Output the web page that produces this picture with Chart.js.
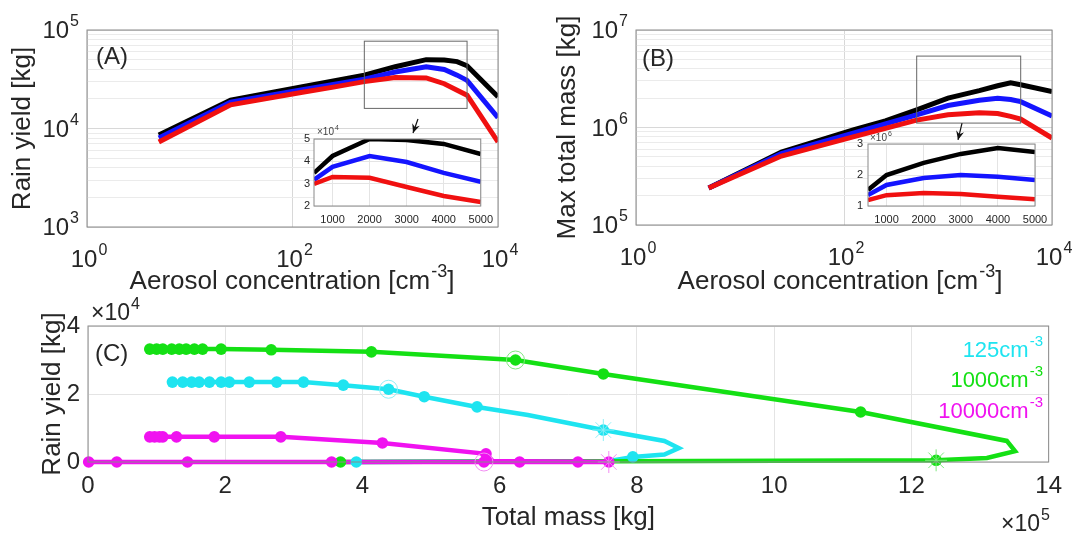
<!DOCTYPE html>
<html>
<head>
<meta charset="utf-8">
<script src="https://cdn.jsdelivr.net/npm/chart.js@4.4.1/dist/chart.umd.min.js"></script>
<style>
  html, body { margin: 0; padding: 0; background: #fff; }
  #wrap { position: relative; width: 1072px; height: 533px; overflow: hidden; }
  canvas { position: absolute; }
</style>
</head>
<body>
<div id="wrap">
  <canvas id="chartA" width="530" height="300" style="left:0px;top:0px;width:530px;height:300px"></canvas>
  <canvas id="chartB" width="542" height="300" style="left:530px;top:0px;width:542px;height:300px"></canvas>
  <canvas id="chartC" width="1072" height="243" style="left:0px;top:290px;width:1072px;height:243px"></canvas>
  <canvas id="insetA" width="220" height="115" style="left:280px;top:120px;width:220px;height:115px"></canvas>
  <canvas id="insetB" width="230" height="110" style="left:830px;top:125px;width:230px;height:110px"></canvas>
</div>
<script>
// aerosol concentration [cm-3] used in panels A and B
const aerosolConc = [5, 25, 125, 250, 500, 1000, 2000, 3000, 4000, 5000, 10000]

// panel A: rain yield [kg]
const rainBlack = [8600, 19400, 26500, 30300, 34800, 42400, 50000, 49600, 47800, 43300, 21000]
const rainBlue = [8000, 18500, 24700, 28000, 31700, 37500, 42400, 39700, 34800, 30800, 12900]
const rainRed = [7300, 17400, 23300, 26300, 29900, 33000, 32600, 28500, 24500, 21800, 7300]

// panel B: max total mass [kg]
const massBlack = [240000, 560000, 950000, 1170000, 1520000, 2000000, 2390000, 2680000, 2870000, 2740000, 2330000]
const massBlue = [240000, 540000, 880000, 1090000, 1350000, 1680000, 1900000, 2000000, 1940000, 1840000, 1310000]
const massRed = [240000, 510000, 805000, 980000, 1190000, 1350000, 1420000, 1390000, 1300000, 1220000, 780000]

// zoom boxes and arrows (data coords) pointing at the insets
const boxAx = [500, 5000], boxAy = [16000, 77000]
const arrowAx = [1664, 1489], arrowAy = [12470, 9000]
const boxBx = [500, 5000], boxBy = [1110000, 5400000]
const arrowBx = [1364, 1248], arrowBy = [1110000, 745000]

// panel C: total mass in 1e5 kg, rain yield in 1e4 kg
const cyanPathMass = [3.91, 7.6, 7.94, 8.4, 8.61, 8.4, 7.51, 6.41, 5.67, 4.90, 4.38, 3.72, 3.14, 2.75, 1.23]
const cyanPathRain = [0, 0.03, 0.15, 0.22, 0.41, 0.62, 0.94, 1.38, 1.62, 1.92, 2.14, 2.26, 2.35, 2.35, 2.35]
const cyanDotMass = [3.91, 7.94, 7.51, 5.67, 4.90, 4.38, 3.72, 3.14, 2.75, 2.35, 2.06, 1.94, 1.77, 1.62, 1.51, 1.38, 1.23]
const cyanDotRain = [0, 0.15, 0.94, 1.62, 1.92, 2.14, 2.26, 2.35, 2.35, 2.35, 2.35, 2.35, 2.35, 2.35, 2.35, 2.35, 2.35]

const greenPathMass = [3.68, 7.7, 12.36, 13.1, 13.51, 13.39, 11.26, 7.51, 6.23, 4.13, 2.67, 1.94, 0.90]
const greenPathRain = [0, 0.02, 0.05, 0.12, 0.32, 0.62, 1.47, 2.59, 3.0, 3.24, 3.30, 3.32, 3.32]
const greenDotMass = [3.68, 12.36, 11.26, 7.51, 6.23, 4.13, 2.67, 1.94, 1.67, 1.55, 1.43, 1.33, 1.22, 1.09, 1.0, 0.90]
const greenDotRain = [0, 0.05, 1.47, 2.59, 3.0, 3.24, 3.30, 3.32, 3.32, 3.32, 3.32, 3.32, 3.32, 3.32, 3.32, 3.32]

const magentaPathMass = [0, 7.59, 5.9, 5.80, 4.29, 2.81, 0.90]
const magentaPathRain = [0, 0, 0.03, 0.24, 0.56, 0.74, 0.74]
const magentaDotMass = [0.01, 0.42, 1.45, 3.55, 5.77, 6.29, 7.14, 7.59, 5.80, 4.29, 2.81, 1.84, 1.29, 1.09, 1.04, 0.97, 0.90]
const magentaDotRain = [0, 0, 0, 0, 0, 0, 0, 0, 0.24, 0.56, 0.74, 0.74, 0.74, 0.74, 0.74, 0.74, 0.74]

// open circles and stars, one per curve: cyan, green, magenta
const ringMass = [4.38, 6.23, 5.77], ringRain = [2.14, 3.0, 0]
const starMass = [7.51, 12.36, 7.59], starRain = [0.94, 0.05, 0]

const legendLabels = ['125', '1000', '10000']

const FONT = "'Liberation Sans', Arial, Helvetica, sans-serif"
const TXT = '#262626'
const CYAN = '#1ee4f0', GREEN = '#14e014', MAGENTA = '#f012f0'
const CYAN_L = '#8eeff6', GREEN_L = '#7fe87f', MAGENTA_L = '#f28ef2'
const isPow10 = (v) => Math.abs(Math.log10(v) - Math.round(Math.log10(v))) < 1e-9

Chart.defaults.font.family = FONT

function decadeTicks(lo, hi) {
  const t = []
  for (let e = lo; e < hi; e++) for (let m = 1; m < 10; m++) t.push(m * Math.pow(10, e))
  t.push(Math.pow(10, hi))
  return t
}

// log axis: tick labels 10^n are painted by drawPowLabels so the exponent can be a real superscript
function logAxis(min, max, ticks, size, title, titlePad) {
  const ax = {
    type: 'logarithmic', min, max,
    afterBuildTicks: (s) => { s.ticks = ticks.map((v) => ({ value: v })) },
    afterFit: (s) => { if (s.isHorizontal()) s.height = size; else s.width = size },
    border: { display: false },
    grid: { color: (c) => (c.tick && isPow10(c.tick.value) ? '#d8d8d8' : '#ebebeb'), drawTicks: false },
    ticks: { display: false },
  }
  if (title) ax.title = { display: true, text: title, color: TXT, font: { size: 26 }, padding: titlePad }
  return ax
}

function linAxis(min, max, ticks, size, fontSize, tickPad, label, title, titlePad) {
  const ax = {
    type: 'linear', min, max,
    afterBuildTicks: (s) => { s.ticks = ticks.map((v) => ({ value: v })) },
    afterFit: (s) => { if (s.isHorizontal()) s.height = size; else s.width = size },
    border: { display: false },
    grid: { color: '#e4e4e4', drawTicks: false },
    ticks: { autoSkip: false, maxRotation: 0, padding: tickPad, color: TXT, font: { size: fontSize }, callback: label },
  }
  if (title) ax.title = { display: true, text: title, color: TXT, font: { size: 26 }, padding: titlePad }
  return ax
}

function xy(xs, ys) {
  return xs.map((x, i) => ({ x, y: ys[i] }))
}

function lineSet(xs, ys, color, width, order) {
  return { data: xy(xs, ys), showLine: true, borderColor: color, borderWidth: width, pointRadius: 0, tension: 0, order }
}

function dotSet(xs, ys, color, order) {
  return {
    data: xy(xs, ys), showLine: false, pointRadius: 5.8, pointBorderWidth: 0,
    pointBackgroundColor: color, pointBorderColor: color, order, clip: false,
  }
}

// parts: [[text, isSuperscript], ...]
function richText(ctx, x, y, parts, size, color, align) {
  ctx.save()
  ctx.fillStyle = color
  ctx.textBaseline = 'alphabetic'
  ctx.textAlign = 'left'
  const big = `${size}px ${FONT}`
  const small = `${Math.round(size * 0.68)}px ${FONT}`
  const widths = parts.map(([t, s]) => {
    ctx.font = s ? small : big
    return ctx.measureText(t).width + (s ? 1 : 0)
  })
  const total = widths.reduce((a, b) => a + b, 0)
  let cx = align === 'right' ? x - total : align === 'center' ? x - total / 2 : x
  parts.forEach(([t, s], i) => {
    ctx.font = s ? small : big
    ctx.fillText(t, cx + (s ? 1 : 0), s ? y - size * 0.48 : y)
    cx += widths[i]
  })
  ctx.restore()
}

function drawPowLabels(chart, ctx, axis, size, offset) {
  const sc = chart.scales[axis]
  sc.ticks.forEach((t) => {
    if (!isPow10(t.value)) return
    const p = sc.getPixelForValue(t.value)
    const parts = [['10', false], [String(Math.round(Math.log10(t.value))), true]]
    if (axis === 'y') richText(ctx, chart.chartArea.left - offset, p + 8, parts, size, TXT, 'right')
    else richText(ctx, p + 2, chart.chartArea.bottom + offset, parts, size, TXT, 'center')
  })
}

function drawBox(chart, xs, ys) {
  const { x, y } = chart.scales
  const ctx = chart.ctx
  const l = x.getPixelForValue(xs[0]), r = x.getPixelForValue(xs[1])
  const t = y.getPixelForValue(ys[1]), b = y.getPixelForValue(ys[0])
  ctx.save()
  ctx.strokeStyle = '#666'
  ctx.lineWidth = 1
  ctx.strokeRect(l, t, r - l, b - t)
  ctx.restore()
}

function drawArrow(chart, xs, ys) {
  const { x, y } = chart.scales
  const ctx = chart.ctx
  const x0 = x.getPixelForValue(xs[0]), y0 = y.getPixelForValue(ys[0])
  const x1 = x.getPixelForValue(xs[1]), y1 = y.getPixelForValue(ys[1])
  const a = Math.atan2(y1 - y0, x1 - x0)
  ctx.save()
  ctx.strokeStyle = '#111'
  ctx.fillStyle = '#111'
  ctx.lineWidth = 1.2
  ctx.beginPath()
  ctx.moveTo(x0, y0)
  ctx.lineTo(x1, y1)
  ctx.stroke()
  ctx.beginPath()
  ctx.moveTo(x1, y1)
  ctx.lineTo(x1 - 9 * Math.cos(a) + 4 * Math.sin(a), y1 - 9 * Math.sin(a) - 4 * Math.cos(a))
  ctx.lineTo(x1 - 6 * Math.cos(a), y1 - 6 * Math.sin(a))
  ctx.lineTo(x1 - 9 * Math.cos(a) - 4 * Math.sin(a), y1 - 9 * Math.sin(a) + 4 * Math.cos(a))
  ctx.closePath()
  ctx.fill()
  ctx.restore()
}

// white plot box (for insets), grey frame around the plot area, then extra drawing
function framePlugin(fillWhite, extra) {
  return {
    id: 'frame',
    beforeDraw(chart) {
      if (!fillWhite) return
      const a = chart.chartArea
      chart.ctx.save()
      chart.ctx.fillStyle = '#fff'
      chart.ctx.fillRect(a.left, a.top, a.right - a.left, a.bottom - a.top)
      chart.ctx.restore()
    },
    afterDraw(chart) {
      const a = chart.chartArea
      const ctx = chart.ctx
      ctx.save()
      ctx.strokeStyle = '#8a8a8a'
      ctx.lineWidth = 1
      ctx.strokeRect(a.left, a.top, a.right - a.left, a.bottom - a.top)
      ctx.restore()
      if (extra) extra(chart, ctx)
    },
  }
}

const baseOptions = () => ({
  responsive: false, animation: false, devicePixelRatio: 1,
  plugins: { legend: { display: false }, tooltip: { enabled: false } },
})

const concTitle = [['Aerosol concentration [cm', false], ['-3', true], [']', false]]

// ---------- panel A ----------
new Chart(document.getElementById('chartA'), {
  type: 'scatter',
  data: {
    datasets: [
      lineSet(aerosolConc, rainBlack, '#000000', 5, 3),
      lineSet(aerosolConc, rainBlue, '#1414ff', 5, 2),
      lineSet(aerosolConc, rainRed, '#f01010', 5, 1),
    ],
  },
  options: {
    ...baseOptions(),
    layout: { padding: { left: 0, top: 30, right: 32, bottom: 0 } },
    scales: {
      x: logAxis(1, 10000, [1, 100, 10000], 73),
      y: logAxis(1000, 100000, decadeTicks(3, 5), 87, 'Rain yield [kg]', { top: 7, bottom: 0 }),
    },
  },
  plugins: [framePlugin(false, (chart, ctx) => {
    drawBox(chart, boxAx, boxAy)
    drawArrow(chart, arrowAx, arrowAy)
    drawPowLabels(chart, ctx, 'y', 24, 8)
    drawPowLabels(chart, ctx, 'x', 24, 40)
    richText(ctx, 292, 289, concTitle, 26, TXT, 'center')
    richText(ctx, 96, 64, [['(A)', false]], 24, TXT)
  })],
})

// ---------- panel B ----------
new Chart(document.getElementById('chartB'), {
  type: 'scatter',
  data: {
    datasets: [
      lineSet(aerosolConc, massBlack, '#000000', 5, 3),
      lineSet(aerosolConc, massBlue, '#1414ff', 5, 2),
      lineSet(aerosolConc, massRed, '#f01010', 5, 1),
    ],
  },
  options: {
    ...baseOptions(),
    layout: { padding: { left: 0, top: 30, right: 20, bottom: 0 } },
    scales: {
      x: logAxis(1, 10000, [1, 100, 10000], 75),
      y: logAxis(100000, 10000000, decadeTicks(5, 7), 106, 'Max total mass [kg]', { top: 22, bottom: 0 }),
    },
  },
  plugins: [framePlugin(false, (chart, ctx) => {
    drawBox(chart, boxBx, boxBy)
    drawArrow(chart, arrowBx, arrowBy)
    drawPowLabels(chart, ctx, 'y', 24, 8)
    drawPowLabels(chart, ctx, 'x', 24, 40)
    richText(ctx, 310, 289, concTitle, 26, TXT, 'center')
    richText(ctx, 112, 66, [['(B)', false]], 24, TXT)
  })],
})

// ---------- insets ----------
const insetConc = aerosolConc.slice(4, 10)
const kTicks = [1000, 2000, 3000, 4000, 5000]

new Chart(document.getElementById('insetA'), {
  type: 'scatter',
  data: {
    datasets: [
      lineSet(insetConc, rainBlack.slice(4, 10), '#000000', 4.5, 3),
      lineSet(insetConc, rainBlue.slice(4, 10), '#1414ff', 4.5, 2),
      lineSet(insetConc, rainRed.slice(4, 10), '#f01010', 4.5, 1),
    ],
  },
  options: {
    ...baseOptions(),
    layout: { padding: { left: 0, top: 19, right: 13, bottom: 0 } },
    scales: {
      x: linAxis(500, 5000, kTicks, 29, 11, 7, (v) => String(v)),
      y: linAxis(20000, 50000, [20000, 30000, 40000, 50000], 34, 11, 4, (v) => String(v / 10000)),
    },
  },
  plugins: [framePlugin(true, (chart, ctx) => richText(ctx, 37, 15, [['×10', false], ['4', true]], 10, '#444'))],
})

new Chart(document.getElementById('insetB'), {
  type: 'scatter',
  data: {
    datasets: [
      lineSet(insetConc, massBlack.slice(4, 10), '#000000', 4.5, 3),
      lineSet(insetConc, massBlue.slice(4, 10), '#1414ff', 4.5, 2),
      lineSet(insetConc, massRed.slice(4, 10), '#f01010', 4.5, 1),
    ],
  },
  options: {
    ...baseOptions(),
    layout: { padding: { left: 0, top: 19, right: 25, bottom: 0 } },
    scales: {
      x: linAxis(500, 5000, kTicks, 29, 11, 7, (v) => String(v)),
      y: linAxis(1000000, 3000000, [1000000, 2000000, 3000000], 38, 11, 5, (v) => String(v / 1000000)),
    },
  },
  plugins: [framePlugin(true, (chart, ctx) => richText(ctx, 40, 16, [['×10', false], ['6', true]], 10, '#444'))],
})

// ---------- panel C ----------
const curveColors = [CYAN, GREEN, MAGENTA]
const lightColors = [CYAN_L, GREEN_L, MAGENTA_L]

new Chart(document.getElementById('chartC'), {
  type: 'scatter',
  data: {
    datasets: [
      { ...lineSet(cyanPathMass, cyanPathRain, CYAN, 4.5, 9), clip: false },
      { ...lineSet(greenPathMass, greenPathRain, GREEN, 4.5, 8), clip: false },
      { ...lineSet(magentaPathMass, magentaPathRain, MAGENTA, 4.5, 7), clip: false },
      dotSet(cyanDotMass, cyanDotRain, CYAN, 6),
      dotSet(greenDotMass, greenDotRain, GREEN, 5),
      dotSet(magentaDotMass, magentaDotRain, MAGENTA, 4),
      {
        data: xy(ringMass, ringRain), showLine: false, pointStyle: 'circle', pointRadius: 9,
        pointBorderWidth: 1, pointBackgroundColor: 'rgba(0,0,0,0)', pointBorderColor: lightColors, order: 2, clip: false,
      },
      {
        data: xy(starMass, starRain), showLine: false, pointStyle: 'star', pointRadius: 11,
        pointBorderWidth: 1, pointBackgroundColor: 'rgba(0,0,0,0)', pointBorderColor: lightColors, order: 1, clip: false,
      },
    ],
  },
  options: {
    ...baseOptions(),
    layout: { padding: { left: 0, top: 36, right: 21, bottom: 0 } },
    scales: {
      x: linAxis(0, 14, [0, 2, 4, 6, 8, 10, 12, 14], 71, 24, 10, (v) => String(v), 'Total mass [kg]', { top: 0, bottom: 0 }),
      y: linAxis(0, 4, [0, 2, 4], 88, 24, 8, (v) => String(v), 'Rain yield [kg]', { top: 37, bottom: 0 }),
    },
  },
  plugins: [framePlugin(false, (chart, ctx) => {
    richText(ctx, 95, 71, [['(C)', false]], 24, TXT)
    richText(ctx, 91, 30, [['×10', false], ['4', true]], 23, TXT)
    richText(ctx, 1050, 241, [['×10', false], ['5', true]], 23, TXT, 'right')
    const baselines = [67, 97, 128]
    legendLabels.forEach((lab, i) => richText(ctx, 1043, baselines[i], [[lab + 'cm', false], ['-3', true]], 22, curveColors[i], 'right'))
  })],
})
</script>
</body>
</html>
